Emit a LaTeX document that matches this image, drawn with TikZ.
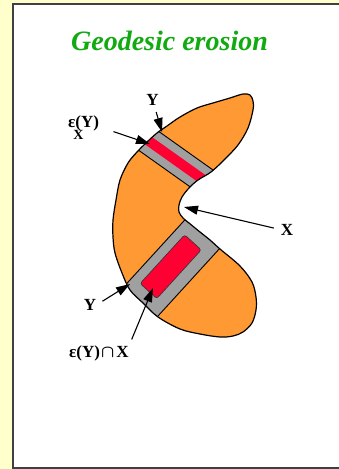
\documentclass[tikz,border=0pt]{standalone}
\usepackage{fontspec}
\setmainfont{Liberation Serif}
\usetikzlibrary{arrows.meta}

\definecolor{bgyellow}{RGB}{255,255,204}
\definecolor{panelframe}{RGB}{64,64,64}
\definecolor{blobfill}{RGB}{255,153,51}
\definecolor{markgray}{RGB}{160,160,160}
\definecolor{erored}{RGB}{255,0,51}
\definecolor{titlegreen}{RGB}{17,170,17}

% outline of the set X (pixel coordinates, y downwards)
\newcommand{\blobpath}{plot[smooth cycle, tension=0.55] coordinates {
    (113,237) (113,220) (116,200) (120,180) (128,163) (137,152) (147,142)
    (157,133) (167,126) (180,117) (197,108) (213,103) (230,98) (243,94)
    (250,95) (253,101) (253,110) (248,128) (238,145) (224,160) (211,172)
    (198,180) (189,188) (182,197) (179,205) (179,212) (183,218) (189,223)
    (200,232) (210,240) (220,249) (240,266) (252,282) (256,297) (256,310)
    (252,323) (243,332) (233,336) (220,337) (200,334) (180,329) (158,317)
    (143,303) (130,290) (122,273) (115,253)}}

\begin{document}
\begin{tikzpicture}[
    x=1pt, y=-1pt,
    title/.style={font=\fontsize{28}{30}\selectfont\bfseries\itshape, text=titlegreen, anchor=base},
    lbl/.style={font=\fontsize{17}{20}\selectfont\bfseries, inner sep=1pt},
    arr/.style={-{Triangle[length=14pt, width=9pt]}, line width=1.1pt},
    grayband/.style={fill=markgray, draw=black, line width=0.9pt},
    redband/.style={fill=erored},
    redbox/.style={fill=erored, draw=black!80, line width=0.6pt, rounded corners=2.5pt}
]
    \useasboundingbox (0,0) rectangle (339,469);
    \clip (0,0) rectangle (339,469);
    \fill[bgyellow] (0,0) rectangle (339,469);
    \filldraw[fill=white, draw=panelframe, line width=2pt] (12.5,3.5) rectangle (360,467.5);

    \node[title] (ttl) at (169.5,50) {Geodesic erosion};

    % the set X and the two markers
    \fill[blobfill] \blobpath;
    \begin{scope}
        \clip \blobpath;
        \begin{scope}[shift={(148.9,141)}, rotate=-35.4]
            \filldraw[grayband] (-40,-13.5) rectangle (100,13.5);
            \fill[redband] (-40,-5) rectangle (100,5);
        \end{scope}
        \begin{scope}[shift={(173.2,266)}, rotate=47.6]
            \filldraw[grayband] (-70,-22.5) rectangle (70,22.5);
        \end{scope}
    \end{scope}
    \begin{scope}[shift={(170.7,266.7)}, rotate=47.6]
        \filldraw[redbox] (-33,-11.25) rectangle (33,11.25);
    \end{scope}
    \draw[line width=1.2pt] \blobpath;

    \coordinate (tipYtop) at (162,132);
    \coordinate (tipEX) at (150,144);
    \coordinate (tipX) at (184,207);
    \coordinate (tipYlow) at (130,284);
    \coordinate (tipEYX) at (153,288);

    \node[lbl, anchor=base] (lblYtop) at (152.5,105) {Y};
    \node[lbl, anchor=base west] (lblEX) at (67,127) {ε\rlap{\hspace{-2pt}\raisebox{-12pt}{\fontsize{14}{15}\selectfont X}}(Y)};
    \node[lbl, anchor=base] (lblX) at (287,235) {X};
    \node[lbl, anchor=base] (lblYlow) at (90,310) {Y};
    \node[lbl, anchor=base west] (lblEYX) at (68,357) {ε(Y)\hspace{1pt}{\boldmath$\cap$}\hspace{2pt}X};

    \draw[arr, shorten <=6pt] (lblYtop) -- (tipYtop);
    \draw[arr, shorten <=14pt] (lblEX.east) -- (tipEX);
    \draw[arr, shorten <=6pt] (lblX.west) -- (tipX);
    \draw[arr, shorten <=6pt] (lblYlow.east) -- (tipYlow);
    \draw[arr, shorten <=5pt] (lblEYX.north east) -- (tipEYX);

\end{tikzpicture}
\end{document}
